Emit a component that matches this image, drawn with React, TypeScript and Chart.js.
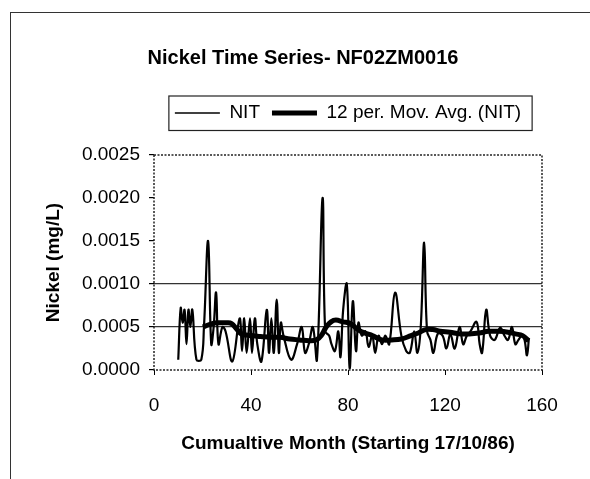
import React, { useEffect, useRef } from "react";
import { Chart, registerables } from "chart.js";

Chart.register(...registerables);

const chartTitle = "Nickel Time Series- NF02ZM0016";
const xAxisTitle = "Cumualtive Month (Starting 17/10/86)";
const yAxisTitle = "Nickel (mg/L)";
const seriesNames = ["NIT", "12 per. Mov. Avg. (NIT)"];

const nitMonths = [
  10.0, 11.0, 11.8, 12.6, 13.4, 14.2, 15.0, 15.8, 17.5, 19.5, 20.6, 22.3, 23.6, 24.6, 25.6, 26.6, 28.2, 29.5,
  32.3, 35.3, 36.3, 37.2, 38.2, 39.6, 40.4, 41.6, 42.6, 44.3, 46.5, 47.4, 48.4, 49.4, 50.6, 51.5, 52.3, 53.4,
  56.5, 59.0, 60.9, 62.3, 63.8, 65.5, 67.2, 69.5, 70.6, 72.2, 73.2, 74.6, 76.0, 76.9, 78.0, 79.5, 80.7, 82.0,
  83.3, 84.3, 85.7, 87.2, 88.5, 90.0, 91.2, 92.6, 94.0, 95.4, 97.0, 99.4, 102.0, 104.0, 105.5, 107.3, 108.6,
  110.0, 111.4, 112.6, 114.0, 115.2, 117.0, 119.0, 120.6, 122.2, 124.0, 126.0, 127.5, 129.0, 130.5, 133.0,
  134.3, 135.3, 137.0, 138.6, 140.5, 142.7, 144.5, 146.0, 147.6, 149.0, 150.3, 151.7, 152.8, 153.8, 154.6,
];
const nitValues = [
  0.00012, 0.00072, 0.00055, 0.0007, 0.0003, 0.0007, 0.0005, 0.0007, 0.00012, 0.00012, 0.0005, 0.0015, 0.0003,
  0.0005, 0.0009, 0.0003, 0.0005, 0.00045, 0.0001, 0.0006, 0.00022, 0.0006, 0.0002, 0.0006, 0.0002, 0.0006,
  0.0003, 0.0001, 0.0007, 0.0002, 0.0006, 0.0002, 0.00082, 0.0002, 0.00055, 0.0004, 0.00012, 0.0003, 0.0005,
  0.0002, 0.0003, 0.0005, 0.00012, 0.002, 0.00045, 0.0004, 0.0003, 0.00022, 0.00045, 0.00015, 0.0007, 0.001,
  0.00002, 0.0008, 0.00022, 0.00055, 0.0004, 0.00045, 0.00027, 0.0004, 0.0002, 0.0004, 0.0003, 0.0004, 0.0003,
  0.0009, 0.0004, 0.00022, 0.0002, 0.00045, 0.0002, 0.0005, 0.00148, 0.00045, 0.00035, 0.0002, 0.00042,
  0.0004, 0.00025, 0.00042, 0.00025, 0.0005, 0.0003, 0.0004, 0.00045, 0.00056, 0.0003, 0.0002, 0.0007, 0.0004,
  0.00035, 0.00049, 0.0004, 0.00035, 0.0005, 0.0003, 0.00035, 0.0004, 0.00035, 0.00017, 0.00037,
];

const maMonths = [
  20.2, 22, 24, 26, 28, 30, 32, 34, 36, 40, 44, 48, 52, 56, 60, 64, 67, 69, 71, 73, 75, 78, 81, 84, 86, 88, 90,
  94, 98, 102, 106, 109, 112, 115, 118, 122, 126, 130, 134, 138, 142, 146, 149, 152, 154.5,
];
const maValues = [
  0.0005, 0.00052, 0.00054, 0.00055, 0.00055, 0.00055, 0.00054, 0.00048, 0.00042, 0.0004, 0.00039, 0.00038,
  0.00038, 0.00036, 0.00035, 0.00034, 0.00035, 0.0004, 0.0005, 0.00056, 0.00058, 0.00056, 0.00054, 0.00047,
  0.00044, 0.00042, 0.0004, 0.00035, 0.00035, 0.00036, 0.0004, 0.00043, 0.00047, 0.00047, 0.00045, 0.00044,
  0.00042, 0.00042, 0.00043, 0.00045, 0.00045, 0.00044, 0.00042, 0.0004, 0.00034,
];

const xTicks = [0, 40, 80, 120, 160];
const yTicks = [0, 0.0005, 0.001, 0.0015, 0.002, 0.0025];
const yGridValues = [0.0005, 0.001];

const FONT = "Arial, 'Liberation Sans', Helvetica, sans-serif";

const plotBorder = {
  id: "plotBorder",
  afterDraw(chart: any) {
    const { ctx, chartArea: a } = chart;
    ctx.save();
    ctx.setLineDash([2, 1.5]);
    ctx.strokeStyle = "#222";
    ctx.lineWidth = 1.5;
    ctx.strokeRect(a.left, a.top, a.right - a.left, a.bottom - a.top);
    ctx.restore();
  },
};

const legendBox = {
  id: "legendBox",
  afterDraw(chart: any) {
    const lg = chart.legend;
    const hb = lg && lg.legendHitBoxes;
    if (!hb || !hb.length) return;
    const first = hb[0];
    const last = hb[hb.length - 1];
    const { ctx } = chart;
    const l = first.left - 6;
    const r = last.left + last.width + 11;
    const t = first.top - 7.5;
    const b = first.top + first.height + 8;
    ctx.save();
    ctx.strokeStyle = "#222";
    ctx.lineWidth = 1.2;
    ctx.strokeRect(l, t, r - l, b - t);
    ctx.restore();
  },
};

export default function App() {
  const ref = useRef<HTMLCanvasElement | null>(null);

  useEffect(() => {
    if (!ref.current) return;
    Chart.defaults.font.family = FONT;
    const chart = new Chart(ref.current, {
      type: "line",
      data: {
        datasets: [
          {
            label: seriesNames[0],
            data: nitMonths.map((m, i) => ({ x: m, y: nitValues[i] })),
            borderColor: "#000",
            borderWidth: 2.2,
            pointRadius: 0,
            tension: 0.4,
            fill: false,
          },
          {
            label: seriesNames[1],
            data: maMonths.map((m, i) => ({ x: m, y: maValues[i] })),
            borderColor: "#000",
            borderWidth: 5,
            pointRadius: 0,
            tension: 0.4,
            fill: false,
          },
        ],
      },
      options: {
        animation: false,
        responsive: false,
        maintainAspectRatio: false,
        devicePixelRatio: 1,
        layout: { padding: { left: 16, right: 0, top: 0, bottom: 24 } },
        plugins: {
          tooltip: { enabled: false },
          title: {
            display: true,
            text: chartTitle,
            color: "#000",
            font: { size: 20, weight: "bold", family: FONT },
            padding: { top: 46, bottom: 21.5 },
          },
          legend: {
            display: true,
            position: "top",
            fullSize: false,
            align: "center",
            labels: {
              color: "#000",
              font: { size: 19, family: FONT },
              usePointStyle: true,
              pointStyleWidth: 45,
              padding: 12,
              generateLabels: () =>
                seriesNames.map((t, i) => ({
                  text: t,
                  fillStyle: "#000",
                  strokeStyle: "#000",
                  lineWidth: i === 0 ? 1.5 : 5,
                  pointStyle: "line",
                  hidden: false,
                  datasetIndex: i,
                  fontColor: "#000",
                })),
            },
          },
        },
        scales: {
          x: {
            type: "linear",
            position: "bottom",
            min: 0,
            max: 160,
            afterBuildTicks: (s: any) => {
              s.ticks = xTicks.map((v) => ({ value: v }));
            },
            ticks: { color: "#000", font: { size: 19 }, padding: 19, callback: (v: any) => String(v) },
            grid: { drawOnChartArea: false, drawTicks: true, tickLength: 5, tickColor: "#000", color: "#000" },
            border: { display: false },
            title: {
              display: true,
              text: xAxisTitle,
              color: "#000",
              font: { size: 19, weight: "bold" },
              padding: { top: 0, bottom: 0 },
            },
            afterFit: (s: any) => {
              s.height = 85;
            },
          },
          xT: {
            type: "linear",
            position: "top",
            display: true,
            grid: { display: false },
            ticks: { display: false },
            border: { display: false },
            afterFit: (s: any) => {
              s.height = 22.5;
            },
          },
          y: {
            type: "linear",
            position: "left",
            min: 0,
            max: 0.0025,
            afterBuildTicks: (s: any) => {
              s.ticks = yTicks.map((v) => ({ value: v }));
            },
            ticks: { color: "#000", font: { size: 19 }, padding: 9, callback: (v: any) => Number(v).toFixed(4) },
            grid: {
              color: (c: any) =>
                c.tick && yGridValues.some((g) => Math.abs(g - c.tick.value) < 1e-9) ? "#333" : "rgba(0,0,0,0)",
              lineWidth: 1.2,
              drawTicks: true,
              tickLength: 5,
              tickColor: "#000",
            },
            border: { display: false },
            title: {
              display: true,
              text: yAxisTitle,
              color: "#000",
              font: { size: 19, weight: "bold" },
              padding: { top: 26, bottom: 0 },
            },
            afterFit: (s: any) => {
              s.width = 138;
            },
          },
          yR: {
            type: "linear",
            position: "right",
            display: true,
            grid: { display: false },
            ticks: { display: false },
            border: { display: false },
            afterFit: (s: any) => {
              s.width = 48;
            },
          },
        },
      },
      plugins: [plotBorder, legendBox],
    } as any);
    return () => chart.destroy();
  }, []);

  return (
    <div
      style={{
        position: "absolute",
        left: 0,
        top: 0,
        width: 590,
        height: 479,
        overflow: "hidden",
        background: "#fff",
      }}
    >
      <div
        style={{
          position: "absolute",
          left: 10,
          top: 12,
          width: 640,
          height: 520,
          borderLeft: "1px solid #333",
          borderTop: "1px solid #333",
        }}
      />
      <canvas ref={ref} width={590} height={479} style={{ position: "absolute", left: 0, top: 0, width: 590, height: 479 }} />
    </div>
  );
}
